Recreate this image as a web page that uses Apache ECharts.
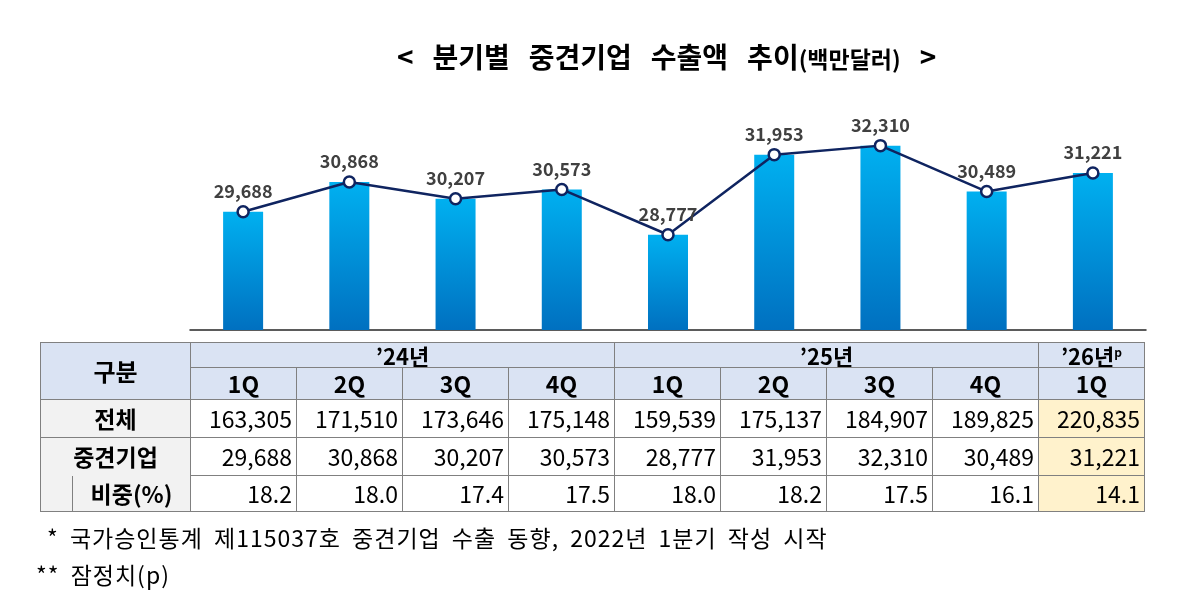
<!DOCTYPE html>
<html>
<head>
<meta charset="utf-8">
<script src="https://cdn.jsdelivr.net/npm/echarts@6/dist/echarts.min.js"></script>
<style>
    html, body { margin: 0; padding: 0; background: #fff; }
    #main { position: absolute; left: 0; top: 0; width: 1199px; height: 597px; }
    #tbl {
        position: absolute; left: 40px; top: 342px;
        border-collapse: collapse; table-layout: fixed;
        font-family: "Noto Sans CJK KR", sans-serif; color: #000;
    }
    #tbl td { border: 1px solid #808080; padding: 0 4px; font-size: 23px; line-height: 1; white-space: nowrap; overflow: hidden; }
    #tbl .hd { background: #dae3f3; font-weight: bold; text-align: center; }
    #tbl .lab { background: #f2f2f2; font-weight: bold; text-align: center; }
    #tbl .num { text-align: right; }
    #tbl .prov { background: #fff2cc; }
    #tbl sup { font-size: 12px; line-height: 0; }
    .note { position: absolute; font-family: "Noto Sans CJK KR", sans-serif; font-size: 23px; line-height: 1; color: #000; white-space: pre; letter-spacing: 1px; word-spacing: 5px; }
</style>
</head>
<body>
<div id="main"></div>
<table id="tbl"></table>
<div class="note" style="left:47px;top:526px;">* 국가승인통계 제115037호 중견기업 수출 동향, 2022년 1분기 작성 시작</div>
<div class="note" style="left:36px;top:563px;">** 잠정치(p)</div>
<script>
// 분기별 데이터
const quarters = ['1Q', '2Q', '3Q', '4Q', '1Q', '2Q', '3Q', '4Q', '1Q'];
const years = ['’24년', '’25년', '’26년'];
const yearSpan = [4, 4, 1];
const totalExport = [163305, 171510, 173646, 175148, 159539, 175137, 184907, 189825, 220835];
const midExport = [29688, 30868, 30207, 30573, 28777, 31953, 32310, 30489, 31221];
const midShare = ['18.2', '18.0', '17.4', '17.5', '18.0', '18.2', '17.5', '16.1', '14.1'];

const fmt = v => v.toLocaleString('en-US');

// 표 만들기
function buildTable() {
    const t = document.getElementById('tbl');
    let html = '<colgroup><col style="width:32px"><col style="width:118px">';
    quarters.forEach(() => { html += '<col style="width:106px">'; });
    html += '</colgroup>';

    html += '<tr style="height:25px"><td class="hd" colspan="2" rowspan="2" style="font-size:24px">구분</td>';
    years.forEach((y, i) => {
        const sup = i === years.length - 1 ? '<sup>p</sup>' : '';
        html += '<td class="hd" colspan="' + yearSpan[i] + '" style="font-size:22px">' + y + sup + '</td>';
    });
    html += '</tr><tr style="height:32px">';
    quarters.forEach(q => { html += '<td class="hd">' + q + '</td>'; });
    html += '</tr>';

    const last = quarters.length - 1;
    html += '<tr style="height:38px"><td class="lab" colspan="2">전체</td>';
    totalExport.forEach((v, i) => { html += '<td class="num' + (i === last ? ' prov' : '') + '">' + fmt(v) + '</td>'; });
    html += '</tr><tr style="height:38px"><td class="lab" colspan="2" style="border-bottom-style:hidden">중견기업</td>';
    midExport.forEach((v, i) => { html += '<td class="num' + (i === last ? ' prov' : '') + '">' + fmt(v) + '</td>'; });
    html += '</tr><tr style="height:36px"><td class="lab" style="border-top-style:hidden"></td><td class="lab" style="border-top:1px solid #808080">비중(%)</td>';
    midShare.forEach((v, i) => { html += '<td class="num' + (i === last ? ' prov' : '') + '">' + v + '</td>'; });
    html += '</tr>';
    t.innerHTML = html;
}
buildTable();

var myChart = echarts.init(document.getElementById('main'));

let option = {
    animation: false,
    title: {
        text: '{b|<}{g| }{b|분기별}{g| }{b|중견기업}{g| }{b|수출액}{g| }{b|추이}{s|(백만달러)}{g| }{b|>}',
        left: 392,
        top: 38,
        textStyle: {
            rich: {
                b: { fontFamily: 'Noto Sans CJK KR', fontSize: 28, fontWeight: 'bold', color: '#000' },
                s: { fontFamily: 'Noto Sans CJK KR', fontSize: 23, color: '#000', padding: [4, 0, 0, 0] },
                g: { fontSize: 28, width: 19 }
            }
        }
    },
    grid: { left: 190, right: 53, top: 103, bottom: 267 },
    xAxis: {
        type: 'category',
        data: quarters,
        axisLine: { lineStyle: { color: '#262626', width: 1.5 } },
        axisTick: { show: false },
        axisLabel: { show: false }
    },
    yAxis: {
        type: 'value',
        min: 25000,
        max: 34000,
        show: false,
        splitLine: { show: false }
    },
    series: [
        {
            type: 'bar',
            data: midExport,
            barWidth: 40,
            itemStyle: {
                color: new echarts.graphic.LinearGradient(0, 0, 0, 1, [
                    { offset: 0, color: '#00b0f0' },
                    { offset: 1, color: '#0070c0' }
                ])
            }
        },
        {
            type: 'line',
            data: midExport,
            symbol: 'circle',
            symbolSize: 11,
            lineStyle: { color: '#0f2460', width: 2.5 },
            itemStyle: { color: '#fff', borderColor: '#0f2460', borderWidth: 2.5 },
            label: {
                show: true,
                position: 'top',
                distance: 5,
                formatter: p => fmt(p.value),
                fontFamily: 'Noto Sans CJK KR',
                fontSize: 18,
                fontWeight: 'bold',
                color: '#404040'
            },
            z: 5
        }
    ]
};

myChart.setOption(option);
</script>
</body>
</html>
